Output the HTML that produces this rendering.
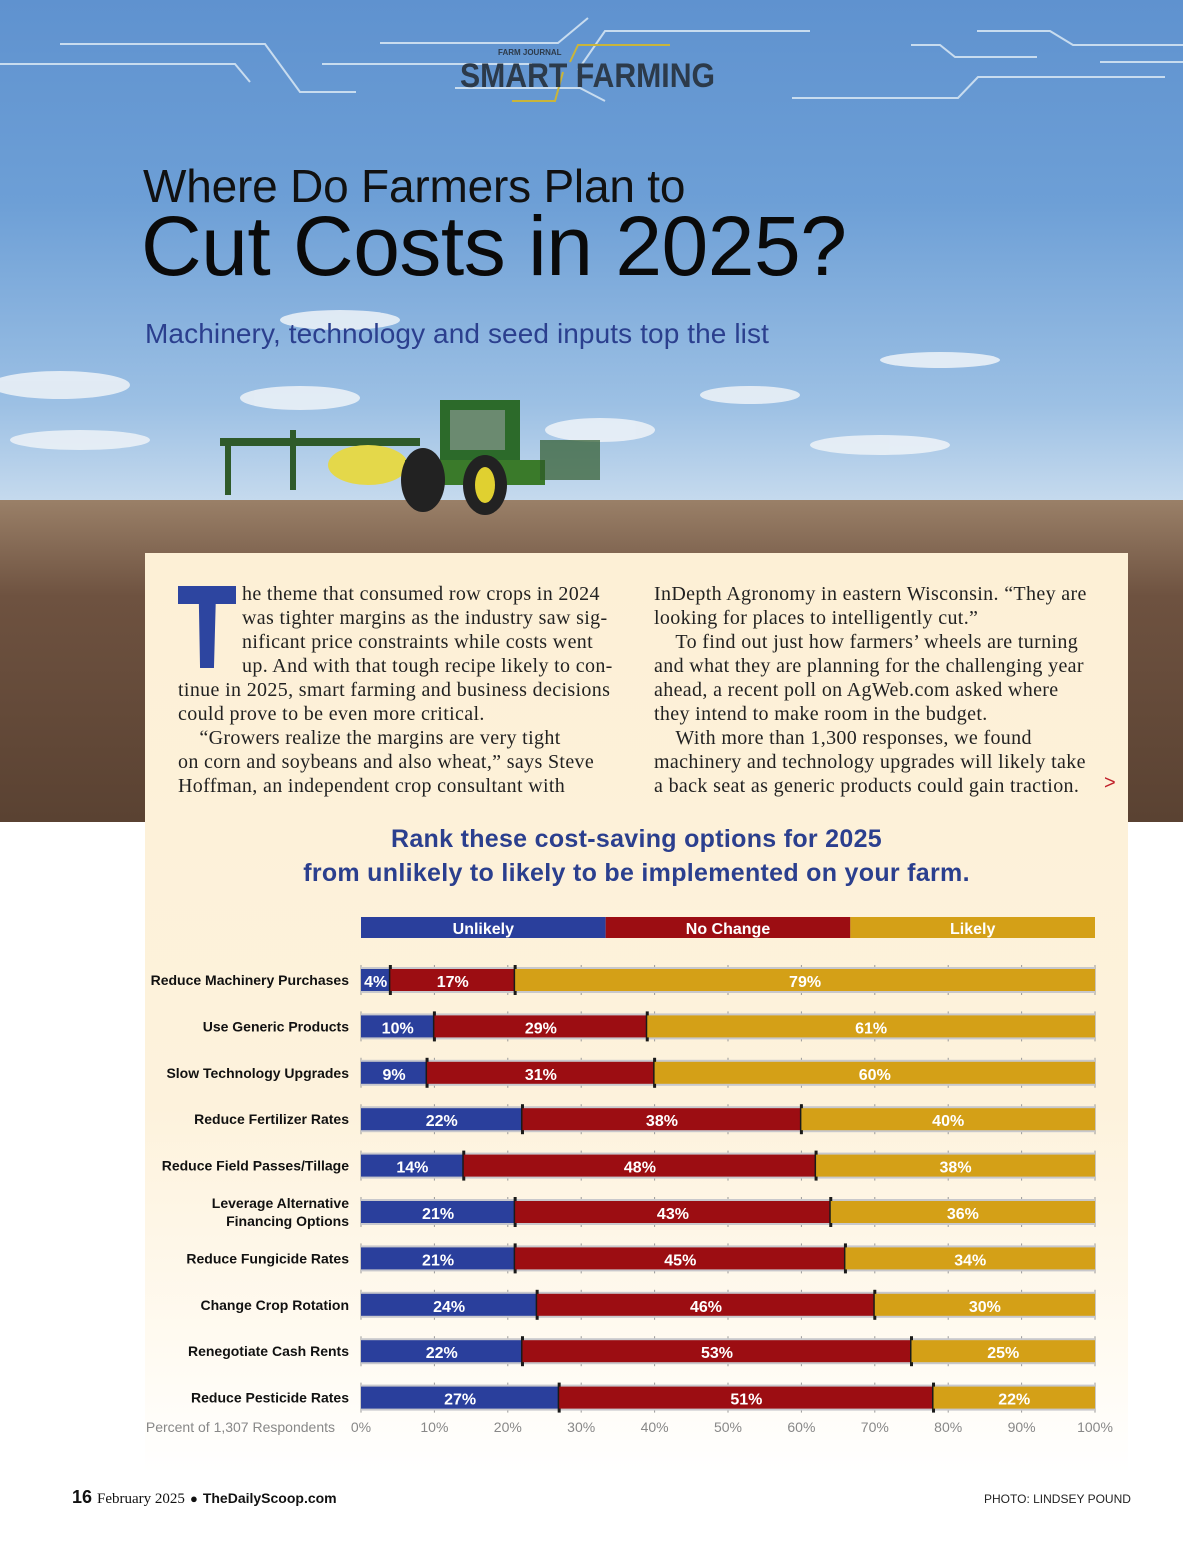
<!DOCTYPE html>
<html><head><meta charset="utf-8">
<style>
*{margin:0;padding:0;box-sizing:border-box}
body{width:1200px;height:1558px;position:relative;overflow:hidden;background:#fff;font-family:"Liberation Sans",sans-serif}
.abs{position:absolute}
#sky{left:0;top:0;width:1183px;height:505px;background:linear-gradient(#5f92cf 0%,#6d9fd6 40%,#9cc0e4 80%,#c7dbee 100%)}
#soil{left:0;top:500px;width:1183px;height:322px;background:linear-gradient(#9a8068 0%,#6e5240 30%,#5a4232 100%)}
#panel{left:145px;top:553px;width:983px;height:920px;background:linear-gradient(#fdf0d6 0%,#fdf2dc 60%,#fffaf0 85%,#ffffff 100%)}
.p{font-family:"Liberation Serif",serif;font-size:20px;line-height:24px;color:#222;letter-spacing:0.35px;white-space:nowrap}
</style></head><body>
<div class="abs" id="sky"></div>
<div class="abs" id="soil"></div>
<svg class="abs" style="left:0;top:0" width="1183" height="520">
 <g stroke="#c8dcef" stroke-width="2" fill="none">
  <polyline points="60,44 265,44 300,92 356,92"/>
  <polyline points="0,64 235,64 250,82"/>
  <polyline points="322,64 532,64"/>
  <polyline points="380,43 558,43 588,18"/>
  <polyline points="455,88 580,88 605,101"/>
  <polyline points="578,70 605,31 810,31"/>
  <polyline points="792,98 958,98 978,77 1165,77"/>
  <polyline points="977,31 1050,31 1073,45 1183,45"/>
  <polyline points="911,45 940,45 955,57 1037,57"/>
  <polyline points="1100,62 1183,62"/>
 </g>
 <g stroke="#c9b53a" stroke-width="2" fill="none">
  <polyline points="670,45 578,45 570,62"/>
  <polyline points="563,72 555,101 512,101"/>
 </g>
 <text x="498" y="55" font-family="Liberation Sans" font-size="8" font-weight="bold" fill="#2c3a4a">FARM JOURNAL</text>
 <text x="460" y="87" font-family="Liberation Sans" font-size="34" font-weight="bold" fill="#2c3a4a" textLength="255" lengthAdjust="spacingAndGlyphs">SMART FARMING</text>
 <g fill="#eef3f8" opacity="0.85">
  <ellipse cx="60" cy="385" rx="70" ry="14"/><ellipse cx="340" cy="320" rx="60" ry="10"/>
  <ellipse cx="300" cy="398" rx="60" ry="12"/><ellipse cx="600" cy="430" rx="55" ry="12"/>
  <ellipse cx="750" cy="395" rx="50" ry="9"/><ellipse cx="940" cy="360" rx="60" ry="8"/>
  <ellipse cx="880" cy="445" rx="70" ry="10"/><ellipse cx="80" cy="440" rx="70" ry="10"/>
 </g>
 <g>
  <rect x="220" y="438" width="200" height="8" fill="#2f5a2a"/>
  <rect x="225" y="440" width="6" height="55" fill="#2f5a2a"/>
  <rect x="290" y="430" width="6" height="60" fill="#2f5a2a"/>
  <ellipse cx="368" cy="465" rx="40" ry="20" fill="#e4d84a"/>
  <rect x="440" y="400" width="80" height="65" fill="#2c6a2a"/>
  <rect x="450" y="410" width="55" height="40" fill="#6b8a70"/>
  <rect x="405" y="460" width="140" height="25" fill="#3a7a2a"/>
  <ellipse cx="423" cy="480" rx="22" ry="32" fill="#222"/>
  <ellipse cx="485" cy="485" rx="22" ry="30" fill="#222"/>
  <ellipse cx="485" cy="485" rx="10" ry="18" fill="#e0d030"/>
  <rect x="540" y="440" width="60" height="40" fill="#2f5a2a" opacity="0.7"/>
 </g>
</svg>
<div class="abs" style="left:143px;top:159px;font-size:46px;color:#111;letter-spacing:-0.2px">Where Do Farmers Plan to</div>
<div class="abs" style="left:141px;top:198px;font-size:84px;color:#0a0a0a;letter-spacing:-0.5px">Cut Costs in 2025?</div>
<div class="abs" style="left:145px;top:318px;font-size:28px;color:#2b3f8e;letter-spacing:0.1px">Machinery, technology and seed inputs top the list</div>
<div class="abs" id="panel"></div>
<div class="abs" style="left:178px;top:586px;width:58px;height:82px;background:#2d45a0;clip-path:polygon(0 0,100% 0,100% 22%,65% 22%,62% 100%,38% 100%,36% 22%,0 22%)"></div>
<div class="abs p" style="left:242px;top:582px">he theme that consumed row crops in 2024<br>was tighter margins as the industry saw sig-<br>nificant price constraints while costs went<br>up. And with that tough recipe likely to con-</div>
<div class="abs p" style="left:178px;top:678px">tinue in 2025, smart farming and business decisions<br>could prove to be even more critical.<br>&nbsp;&nbsp;&nbsp;&nbsp;“Growers realize the margins are very tight<br>on corn and soybeans and also wheat,” says Steve<br>Hoffman, an independent crop consultant with</div>
<div class="abs p" style="left:654px;top:582px">InDepth Agronomy in eastern Wisconsin. “They are<br>looking for places to intelligently cut.”<br>&nbsp;&nbsp;&nbsp;&nbsp;To find out just how farmers’ wheels are turning<br>and what they are planning for the challenging year<br>ahead, a recent poll on AgWeb.com asked where<br>they intend to make room in the budget.<br>&nbsp;&nbsp;&nbsp;&nbsp;With more than 1,300 responses, we found<br>machinery and technology upgrades will likely take<br>a back seat as generic products could gain traction.</div>
<div class="abs" style="left:1104px;top:772px;color:#c0202a;font-size:20px">&gt;</div>
<div class="abs" style="left:145px;top:822px;width:983px;text-align:center;font-size:25px;font-weight:bold;color:#2b3f8e;line-height:34px;letter-spacing:0.3px">Rank these cost-saving options for 2025<br>from unlikely to likely to be implemented on your farm.</div>
<svg class="abs" id="chart" style="left:0;top:0" width="1200" height="1558"></svg>
<div class="abs" style="left:72px;top:1487px;font-size:18px;font-weight:bold;color:#111">16 <span style="font-family:'Liberation Serif',serif;font-weight:normal;font-size:15px">February 2025</span> <span style="font-size:13px">●</span> <span style="font-size:14px">TheDailyScoop.com</span></div>
<div class="abs" style="left:984px;top:1492px;font-size:12px;color:#222">PHOTO: LINDSEY POUND</div>
<script>
const categories=["Reduce Machinery Purchases","Use Generic Products","Slow Technology Upgrades","Reduce Fertilizer Rates","Reduce Field Passes/Tillage","Leverage Alternative|Financing Options","Reduce Fungicide Rates","Change Crop Rotation","Renegotiate Cash Rents","Reduce Pesticide Rates"];
const unlikely=[4,10,9,22,14,21,21,24,22,27];
const noChange=[17,29,31,38,48,43,45,46,53,51];
const likely=[79,61,60,40,38,36,34,30,25,22];
const seriesNames=["Unlikely","No Change","Likely"];
const tickLabels=["0%","10%","20%","30%","40%","50%","60%","70%","80%","90%","100%"];
const NS="http://www.w3.org/2000/svg";
const svg=document.getElementById('chart');
const x0=361,x1=1095,rowTop=980,rowStep=46.4,barH=22;
const colors=["#2a3f9c","#9c0d12","#d4a017"];
const xs=v=>x0+(x1-x0)*v/100;
const ys=i=>rowTop+i*rowStep;
function mk(t,a){const e=document.createElementNS(NS,t);for(const k in a)e.setAttribute(k,a[k]);svg.appendChild(e);return e;}
seriesNames.forEach((n,i)=>{
 const r=mk('rect',{x:x0+i*(x1-x0)/3,y:917,width:(x1-x0)/3,height:21,fill:colors[i]});
 
 
 const t=mk('text',{x:x0+(i+0.5)*(x1-x0)/3,y:934,'text-anchor':'middle','font-size':16,'font-weight':'bold',fill:'#fff'});
 t.textContent=n;
 
 
});
tickLabels.forEach((l,i)=>{
 const v=i*10;
 const t=mk('text',{x:xs(v),y:1432,'text-anchor':'middle','font-size':14,fill:'#888'});
 t.textContent=l;
 
 
 categories.forEach((c,j)=>{
  const ln=mk('line',{x1:xs(v),x2:xs(v),y1:ys(j)-15,y2:ys(j)+15,stroke:'#999','stroke-width':1});
  
  
 });
});
const at=mk('text',{x:335,y:1432,'text-anchor':'end','font-size':14,fill:'#888'});
at.textContent="Percent of 1,307 Respondents";


categories.forEach((c,j)=>{
 const y=ys(j);
 const bg=mk('rect',{x:x0,y:y-barH/2-2,width:x1-x0,height:barH+4,fill:'#c8c8cc'});
 
 
 const vals=[unlikely[j],noChange[j],likely[j]];
 let acc=0;
 vals.forEach((v,k)=>{
  const r=mk('rect',{x:xs(acc),y:y-barH/2,width:xs(acc+v)-xs(acc),height:barH,fill:colors[k]});
  
  
  const t=mk('text',{x:(xs(acc)+xs(acc+v))/2,y:y+7,'text-anchor':'middle','font-size':16,'font-weight':'bold',fill:'#fff'});
  t.textContent=v+'%';
  
  
  acc+=v;
  if(k<2){
   const d=mk('rect',{x:xs(acc)-1.5,y:y-barH/2-4,width:3,height:barH+8,fill:'#1a1a1a'});
   
   
  }
 });
 const parts=c.split('|');
 parts.forEach((p,q)=>{
  const t=mk('text',{x:349,y:y+5-(parts.length-1)*9+q*18,'text-anchor':'end','font-size':14,'font-weight':'bold',fill:'#111'});
  t.textContent=p;
  
  
 });
});
</script>
</body></html>
